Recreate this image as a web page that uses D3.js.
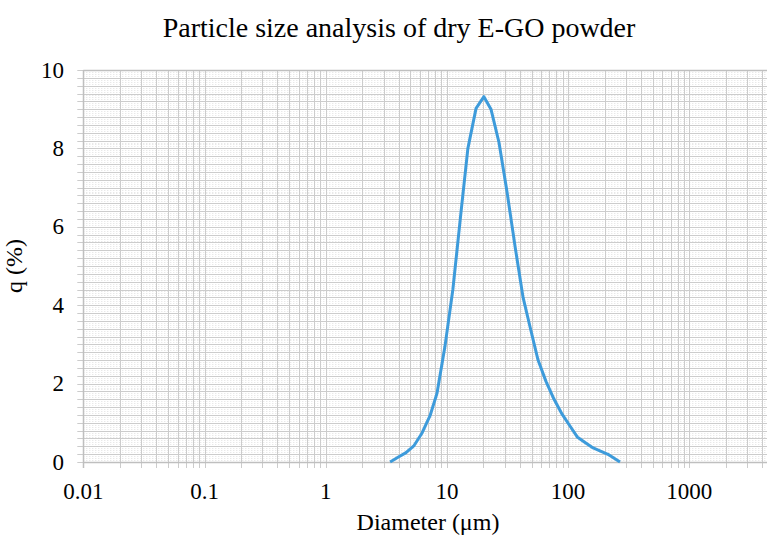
<!DOCTYPE html>
<html>
<head>
<meta charset="utf-8">
<script src="https://cdn.jsdelivr.net/npm/d3@7"></script>
<style>
    body { margin: 0; background: #fff; }
    text { font-family: "Liberation Serif", "Times New Roman", serif; fill: #000; }
</style>
</head>
<body>
<div id="chart"></div>
<script>
    'use strict';

    // particle diameters (um) and frequency q (%)
    var diameters = [3.40, 3.95, 4.60, 5.36, 6.24, 7.26, 8.28, 9.64, 11.2, 13.1, 14.9, 17.4, 20.2, 23.1,
        26.9, 31.3, 36.5, 42.5, 48.5, 56.5, 65.8, 76.6, 89.2, 102, 119, 138, 161, 187, 218, 268];
    var qValues = [0, 0.12, 0.24, 0.42, 0.74, 1.18, 1.75, 2.95, 4.40, 6.40, 8.00, 9.02, 9.32, 9.00,
        8.15, 6.90, 5.50, 4.20, 3.45, 2.60, 2.05, 1.60, 1.22, 0.95, 0.64, 0.50, 0.36, 0.27, 0.18, 0];
    var xTickLabels = ['0.01', '0.1', '1', '10', '100', '1000'];
    var yTickLabels = [0, 2, 4, 6, 8, 10];

    var WIDTH = 767;
    var HEIGHT = 536;
    var PLOT = { LEFT: 83.3, TOP: 70, BOTTOM: 462, DECADE: 121.2 };
    var GRID_COLOR = '#cccccc';
    var LINE_COLOR = '#3d9bdb';

    var svg = d3.select('#chart').append('svg')
        .attr('width', WIDTH)
        .attr('height', HEIGHT);

    var x = d3.scaleLog()
        .domain([0.01, 10000])
        .range([PLOT.LEFT, PLOT.LEFT + 6 * PLOT.DECADE]);
    var y = d3.scaleLinear()
        .domain([0, 10])
        .range([PLOT.BOTTOM, PLOT.TOP]);

    function drawGrid() {
        var grid = svg.append('g');
        var minorY = d3.range(0, 10, 0.05).filter(function (v) {
            return Math.abs(v / 0.2 - Math.round(v / 0.2)) > 0.01;
        });
        var majorY = d3.range(0, 10.01, 0.2);

        grid.selectAll('.minor-y').data(minorY).enter().append('line')
            .attr('x1', PLOT.LEFT).attr('x2', WIDTH)
            .attr('y1', function (d) { return Math.round(y(d)) + 0.5; })
            .attr('y2', function (d) { return Math.round(y(d)) + 0.5; })
            .attr('stroke', '#e0e0e0')
            .attr('stroke-dasharray', '1,2');

        grid.selectAll('.major-y').data(majorY).enter().append('line')
            .attr('x1', PLOT.LEFT - 6).attr('x2', WIDTH)
            .attr('y1', function (d) { return Math.round(y(d)) + 0.5; })
            .attr('y2', function (d) { return Math.round(y(d)) + 0.5; })
            .attr('stroke', GRID_COLOR);

        grid.selectAll('.major-x').data(x.ticks()).enter().append('line')
            .attr('x1', function (d) { return Math.round(x(d)) + 0.5; })
            .attr('x2', function (d) { return Math.round(x(d)) + 0.5; })
            .attr('y1', PLOT.TOP)
            .attr('y2', PLOT.BOTTOM + 6)
            .attr('stroke', GRID_COLOR);
    }

    function drawAxes() {
        svg.append('line')
            .attr('x1', PLOT.LEFT).attr('x2', WIDTH)
            .attr('y1', PLOT.BOTTOM + 0.5).attr('y2', PLOT.BOTTOM + 0.5)
            .attr('stroke', '#bfbfbf').attr('stroke-width', 1.5);
        svg.append('line')
            .attr('x1', Math.round(PLOT.LEFT) + 0.5).attr('x2', Math.round(PLOT.LEFT) + 0.5)
            .attr('y1', PLOT.TOP).attr('y2', PLOT.BOTTOM + 6)
            .attr('stroke', '#bfbfbf').attr('stroke-width', 1.5);
        svg.append('line')
            .attr('x1', PLOT.LEFT).attr('x2', WIDTH)
            .attr('y1', PLOT.TOP + 0.5).attr('y2', PLOT.TOP + 0.5)
            .attr('stroke', '#bfbfbf').attr('stroke-width', 1.5);

        svg.selectAll('.x-label').data(xTickLabels).enter().append('text')
            .attr('x', function (d) { return x(+d); })
            .attr('y', 499)
            .attr('text-anchor', 'middle')
            .style('font-size', '23px')
            .text(function (d) { return d; });

        svg.selectAll('.y-label').data(yTickLabels).enter().append('text')
            .attr('x', 64)
            .attr('y', function (d) { return y(d) + 7.5; })
            .attr('text-anchor', 'end')
            .style('font-size', '23px')
            .text(function (d) { return d; });
    }

    function drawLine() {
        var points = diameters.map(function (d, i) { return [d, qValues[i]]; });
        var line = d3.line()
            .x(function (d) { return x(d[0]); })
            .y(function (d) { return y(d[1]); });

        svg.append('path')
            .datum(points)
            .attr('d', line)
            .attr('fill', 'none')
            .attr('stroke', LINE_COLOR)
            .attr('stroke-width', 3)
            .attr('stroke-linejoin', 'round');
    }

    function drawTitles() {
        svg.append('text')
            .attr('x', 399).attr('y', 37)
            .attr('text-anchor', 'middle')
            .style('font-size', '28px')
            .text('Particle size analysis of dry E-GO powder');

        svg.append('text')
            .attr('x', 428).attr('y', 530)
            .attr('text-anchor', 'middle')
            .style('font-size', '24px')
            .text('Diameter (\u03bcm)');

        svg.append('text')
            .attr('transform', 'translate(22,266) rotate(-90)')
            .attr('text-anchor', 'middle')
            .style('font-size', '24px')
            .text('q (%)');
    }

    drawGrid();
    drawAxes();
    drawLine();
    drawTitles();
</script>
</body>
</html>
